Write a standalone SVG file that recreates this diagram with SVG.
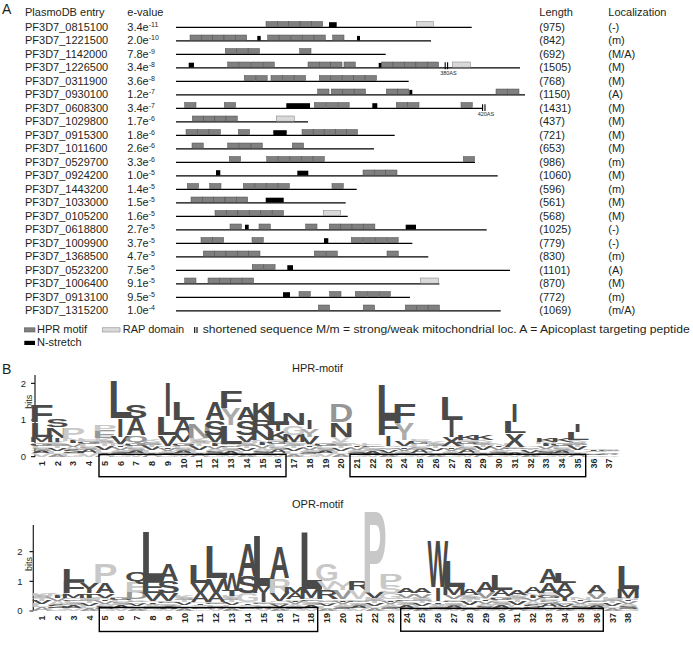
<svg xmlns="http://www.w3.org/2000/svg" xmlns:xlink="http://www.w3.org/1999/xlink" width="693" height="654" viewBox="0 0 693 654">
<style>
.t{font-family:"Liberation Sans",Arial,sans-serif;font-size:11px;fill:#231f20}
.sup{font-size:7px}
.sm{font-family:"Liberation Sans",Arial,sans-serif;font-size:5.5px;fill:#231f20}
.hd{font-family:"Liberation Sans",Arial,sans-serif;font-size:14px;fill:#231f20}
.ln{stroke:#000;stroke-width:1.3}
.hpr{fill:#808080;stroke:#4d4d4d;stroke-width:.5}
.rap{fill:#d9d9d9;stroke:#7a7a7a;stroke-width:.5}
.ns{fill:#000}
.brk{stroke:#000;stroke-width:1.1}
.lg{font-family:"Liberation Sans",Arial,sans-serif;font-weight:bold;font-size:30px;text-anchor:middle}
.d{fill:#4a4a4a}.m{fill:#969696}.l{fill:#c8c8c8}.y{fill:#ababab}
.ax{stroke:#231f20;stroke-width:1.2;fill:none}
.num{font-family:"Liberation Sans",Arial,sans-serif;font-weight:bold;font-size:9px;text-anchor:middle;fill:#231f20}
.tk{font-family:"Liberation Sans",Arial,sans-serif;font-size:9.5px;text-anchor:end;fill:#231f20}
.bits{font-family:"Liberation Sans",Arial,sans-serif;font-size:9px;text-anchor:middle;fill:#231f20}
.box{fill:none;stroke:#000;stroke-width:1.4}
</style>
<defs>
<rect id="h" class="hpr" width="11.3" height="5.2"/>
<g id="na">
<text class="lg l" transform="translate(0,0) scale(1.1,.2048)">V</text>
<text class="lg d" transform="translate(0,-4.4) scale(.95,.1862)">A</text>
<text class="lg m" transform="translate(0,-8.4) scale(1.1,.1676)">S</text>
<text class="lg l" transform="translate(0,-12) scale(1.2,.1397)">L</text>
<text class="lg d" transform="translate(0,-15) scale(1.05,.121)">G</text>
<text class="lg l" transform="translate(0,-17.6) scale(1.1,.1117)">E</text>
</g>
<g id="nb">
<text class="lg m" transform="translate(0,0) scale(.95,.1862)">A</text>
<text class="lg l" transform="translate(0,-4) scale(1.2,.1676)">L</text>
<text class="lg d" transform="translate(0,-7.6) scale(1,.1862)">V</text>
<text class="lg l" transform="translate(0,-11.6) scale(1.1,.1304)">T</text>
<text class="lg m" transform="translate(0,-14.4) scale(1.1,.1304)">S</text>
<text class="lg l" transform="translate(0,-17.2) scale(1,.1304)">K</text>
</g>
<g id="nc">
<text class="lg l" transform="translate(0,0) scale(1.05,.1676)">G</text>
<text class="lg d" transform="translate(0,-3.6) scale(1.1,.1676)">S</text>
<text class="lg l" transform="translate(0,-7.2) scale(.95,.1769)">A</text>
<text class="lg m" transform="translate(0,-11) scale(1,.1583)">V</text>
<text class="lg d" transform="translate(0,-14.4) scale(1.2,.121)">I</text>
<text class="lg l" transform="translate(0,-17) scale(1.1,.1397)">N</text>
</g>
</defs>
<rect width="693" height="654" fill="#fff"/>

<g id="panelA-header">
<text class="hd" x="2" y="14">A</text>
<text class="t" x="25" y="15.5">PlasmoDB entry</text>
<text class="t" x="127.3" y="15.5">e-value</text>
<text class="t" x="539.3" y="15.5">Length</text>
<text class="t" x="608.3" y="15.5">Localization</text>
</g>

<g id="r0815100" transform="translate(0,26.7)">
<text class="t" x="25" y="3.9">PF3D7_0815100</text><text class="t" x="127.3" y="3.9">3.4e<tspan class="sup" dy="-4">-11</tspan></text><text class="t" x="539.3" y="3.9">(975)</text><text class="t" x="608.3" y="3.9">(-)</text>
<line class="ln" x1="176" y1="0.7" x2="471.7" y2="0.7"/>
<use href="#h" x="266" y="-5.2"/><use href="#h" x="277.3" y="-5.2"/><use href="#h" x="288.7" y="-5.2"/><use href="#h" x="300" y="-5.2"/><use href="#h" x="311.4" y="-5.2"/>
<rect class="ns" x="329" y="-4.5" width="7.7" height="4.8"/>
<rect class="rap" x="416.3" y="-5.2" width="17" height="5.2"/>
</g>
<g id="r1221500" transform="translate(0,40.2)">
<text class="t" x="25" y="3.9">PF3D7_1221500</text><text class="t" x="127.3" y="3.9">2.0e<tspan class="sup" dy="-4">-10</tspan></text><text class="t" x="539.3" y="3.9">(842)</text><text class="t" x="608.3" y="3.9">(m)</text>
<line class="ln" x1="176" y1="0.7" x2="431" y2="0.7"/>
<use href="#h" x="190" y="-5.2"/><use href="#h" x="201.3" y="-5.2"/><use href="#h" x="212.7" y="-5.2"/><use href="#h" x="224" y="-5.2"/><use href="#h" x="235.4" y="-5.2"/>
<rect class="ns" x="257.3" y="-4.3" width="3.4" height="4.6"/>
<use href="#h" x="267.7" y="-5.2"/><use href="#h" x="279.3" y="-5.2"/><use href="#h" x="290.9" y="-5.2"/><use href="#h" x="302.5" y="-5.2"/><use href="#h" x="314.1" y="-5.2"/>
<use href="#h" x="332.7" y="-5.2"/>
<rect class="ns" x="357" y="-4.3" width="3" height="4.6"/>
</g>
<g id="r1142000" transform="translate(0,53.7)">
<text class="t" x="25" y="3.9">PF3D7_1142000</text><text class="t" x="127.3" y="3.9">7.8e<tspan class="sup" dy="-4">-9</tspan></text><text class="t" x="539.3" y="3.9">(692)</text><text class="t" x="608.3" y="3.9">(M/A)</text>
<line class="ln" x1="176" y1="0.7" x2="385.7" y2="0.7"/>
<use href="#h" x="225.3" y="-5.2"/><use href="#h" x="236.8" y="-5.2"/><use href="#h" x="248.2" y="-5.2"/>
<use href="#h" x="299.7" y="-5.2"/>
</g>
<g id="r1226500" transform="translate(0,67.2)">
<text class="t" x="25" y="3.9">PF3D7_1226500</text><text class="t" x="127.3" y="3.9">3.4e<tspan class="sup" dy="-4">-8</tspan></text><text class="t" x="539.3" y="3.9">(1505)</text><text class="t" x="608.3" y="3.9">(M)</text>
<line class="ln" x1="176" y1="0.7" x2="520" y2="0.7"/>
<rect class="ns" x="188.7" y="-4.5" width="5.3" height="4.8"/>
<use href="#h" x="227.7" y="-5.2"/><use href="#h" x="239.4" y="-5.2"/><use href="#h" x="251.2" y="-5.2"/><use href="#h" x="263" y="-5.2"/>
<use href="#h" x="308" y="-5.2"/><use href="#h" x="319.3" y="-5.2"/><use href="#h" x="330.7" y="-5.2"/><use href="#h" x="344" y="-5.2"/>
<rect class="ns" x="378.7" y="-4.3" width="3" height="4.6"/>
<use href="#h" x="381.7" y="-5.2"/><use href="#h" x="393.1" y="-5.2"/><use href="#h" x="404.5" y="-5.2"/><use href="#h" x="415.9" y="-5.2"/><use href="#h" x="427.3" y="-5.2"/>
<line class="brk" x1="445.2" y1="-5" x2="445.2" y2="2"/><line class="brk" x1="447.6" y1="-5" x2="447.6" y2="2"/>
<rect class="rap" x="452.3" y="-5.2" width="18" height="5.2"/>
<text class="sm" x="440.2" y="7.8">380AS</text>
</g>
<g id="r0311900" transform="translate(0,80.7)">
<text class="t" x="25" y="3.9">PF3D7_0311900</text><text class="t" x="127.3" y="3.9">3.6e<tspan class="sup" dy="-4">-8</tspan></text><text class="t" x="539.3" y="3.9">(768)</text><text class="t" x="608.3" y="3.9">(M)</text>
<line class="ln" x1="176" y1="0.7" x2="408.7" y2="0.7"/>
<use href="#h" x="244.3" y="-5.2"/><use href="#h" x="255.9" y="-5.2"/>
<use href="#h" x="271" y="-5.2"/><use href="#h" x="282.7" y="-5.2"/><use href="#h" x="294.3" y="-5.2"/>
<use href="#h" x="319.3" y="-5.2"/><use href="#h" x="330.8" y="-5.2"/><use href="#h" x="342.3" y="-5.2"/><use href="#h" x="353.7" y="-5.2"/><use href="#h" x="365.2" y="-5.2"/>
</g>
<g id="r0930100" transform="translate(0,94.2)">
<text class="t" x="25" y="3.9">PF3D7_0930100</text><text class="t" x="127.3" y="3.9">1.2e<tspan class="sup" dy="-4">-7</tspan></text><text class="t" x="539.3" y="3.9">(1150)</text><text class="t" x="608.3" y="3.9">(A)</text>
<line class="ln" x1="176" y1="0.7" x2="525" y2="0.7"/>
<use href="#h" x="317.7" y="-5.2"/>
<use href="#h" x="331.3" y="-5.2"/><use href="#h" x="342.8" y="-5.2"/><use href="#h" x="354.2" y="-5.2"/>
<use href="#h" x="386.3" y="-5.2"/><use href="#h" x="397.5" y="-5.2"/>
<rect class="ns" x="409.3" y="-4.3" width="3" height="4.6"/>
<use href="#h" x="496" y="-5.2"/><use href="#h" x="507.7" y="-5.2"/>
</g>
<g id="r0608300" transform="translate(0,107.7)">
<text class="t" x="25" y="3.9">PF3D7_0608300</text><text class="t" x="127.3" y="3.9">3.4e<tspan class="sup" dy="-4">-7</tspan></text><text class="t" x="539.3" y="3.9">(1431)</text><text class="t" x="608.3" y="3.9">(M)</text>
<line class="ln" x1="176" y1="0.7" x2="483" y2="0.7"/>
<use href="#h" x="184.7" y="-5.2"/>
<use href="#h" x="224.3" y="-5.2"/>
<rect class="ns" x="286.3" y="-4.5" width="23.7" height="4.8"/>
<use href="#h" x="314.3" y="-5.2"/><use href="#h" x="326.1" y="-5.2"/><use href="#h" x="337.9" y="-5.2"/>
<rect class="ns" x="372.3" y="-4.5" width="5" height="4.8"/>
<use href="#h" x="396.3" y="-5.2"/><use href="#h" x="407.7" y="-5.2"/>
<use href="#h" x="461" y="-5.2"/>
<line class="brk" x1="482.6" y1="-3.5" x2="482.6" y2="3.3"/><line class="brk" x1="485" y1="-3.5" x2="485" y2="3.3"/>
<text class="sm" x="477.7" y="8.8">420AS</text>
</g>
<g id="r1029800" transform="translate(0,121.2)">
<text class="t" x="25" y="3.9">PF3D7_1029800</text><text class="t" x="127.3" y="3.9">1.7e<tspan class="sup" dy="-4">-6</tspan></text><text class="t" x="539.3" y="3.9">(437)</text><text class="t" x="608.3" y="3.9">(M)</text>
<line class="ln" x1="176" y1="0.7" x2="308" y2="0.7"/>
<use href="#h" x="192.3" y="-5.2"/><use href="#h" x="203.6" y="-5.2"/><use href="#h" x="214.8" y="-5.2"/><use href="#h" x="226" y="-5.2"/>
<rect class="rap" x="276.3" y="-5.2" width="18" height="5.2"/>
</g>
<g id="r0915300" transform="translate(0,134.7)">
<text class="t" x="25" y="3.9">PF3D7_0915300</text><text class="t" x="127.3" y="3.9">1.8e<tspan class="sup" dy="-4">-6</tspan></text><text class="t" x="539.3" y="3.9">(721)</text><text class="t" x="608.3" y="3.9">(M)</text>
<line class="ln" x1="176" y1="0.7" x2="394.7" y2="0.7"/>
<use href="#h" x="186" y="-5.2"/><use href="#h" x="197.6" y="-5.2"/><use href="#h" x="209.1" y="-5.2"/>
<use href="#h" x="238.3" y="-5.2"/>
<rect class="ns" x="273.3" y="-4.5" width="13.4" height="4.8"/>
<use href="#h" x="302" y="-5.2"/><use href="#h" x="313.1" y="-5.2"/><use href="#h" x="324.1" y="-5.2"/><use href="#h" x="335.2" y="-5.2"/><use href="#h" x="346.3" y="-5.2"/>
</g>
<g id="r1011600" transform="translate(0,148.2)">
<text class="t" x="25" y="3.9">PF3D7_1011600</text><text class="t" x="127.3" y="3.9">2.6e<tspan class="sup" dy="-4">-6</tspan></text><text class="t" x="539.3" y="3.9">(653)</text><text class="t" x="608.3" y="3.9">(M)</text>
<line class="ln" x1="176" y1="0.7" x2="374" y2="0.7"/>
<use href="#h" x="192" y="-5.2"/>
<use href="#h" x="227.7" y="-5.2"/><use href="#h" x="239.4" y="-5.2"/><use href="#h" x="251" y="-5.2"/>
<use href="#h" x="292.3" y="-5.2"/>
</g>
<g id="r0529700" transform="translate(0,161.7)">
<text class="t" x="25" y="3.9">PF3D7_0529700</text><text class="t" x="127.3" y="3.9">3.3e<tspan class="sup" dy="-4">-6</tspan></text><text class="t" x="539.3" y="3.9">(986)</text><text class="t" x="608.3" y="3.9">(m)</text>
<line class="ln" x1="176" y1="0.7" x2="475" y2="0.7"/>
<use href="#h" x="229.3" y="-5.2"/>
<use href="#h" x="266.7" y="-5.2"/><use href="#h" x="278.3" y="-5.2"/><use href="#h" x="289.9" y="-5.2"/><use href="#h" x="301.5" y="-5.2"/><use href="#h" x="313.1" y="-5.2"/>
<use href="#h" x="463.3" y="-5.2"/>
</g>
<g id="r0924200" transform="translate(0,175.2)">
<text class="t" x="25" y="3.9">PF3D7_0924200</text><text class="t" x="127.3" y="3.9">1.0e<tspan class="sup" dy="-4">-5</tspan></text><text class="t" x="539.3" y="3.9">(1060)</text><text class="t" x="608.3" y="3.9">(M)</text>
<line class="ln" x1="176" y1="0.7" x2="497.7" y2="0.7"/>
<rect class="ns" x="216" y="-5" width="4.3" height="5.3"/>
<rect class="ns" x="297.3" y="-4.5" width="11" height="4.8"/>
<use href="#h" x="363" y="-5.2"/><use href="#h" x="374.3" y="-5.2"/><use href="#h" x="385.7" y="-5.2"/>
</g>
<g id="r1443200" transform="translate(0,188.7)">
<text class="t" x="25" y="3.9">PF3D7_1443200</text><text class="t" x="127.3" y="3.9">1.4e<tspan class="sup" dy="-4">-5</tspan></text><text class="t" x="539.3" y="3.9">(596)</text><text class="t" x="608.3" y="3.9">(m)</text>
<line class="ln" x1="176" y1="0.7" x2="356.7" y2="0.7"/>
<use href="#h" x="187.3" y="-5.2"/>
<use href="#h" x="209.7" y="-5.2"/>
<use href="#h" x="243.3" y="-5.2"/><use href="#h" x="254.9" y="-5.2"/><use href="#h" x="266.5" y="-5.2"/><use href="#h" x="278.1" y="-5.2"/>
<use href="#h" x="332" y="-5.2"/>
</g>
<g id="r1033000" transform="translate(0,202.2)">
<text class="t" x="25" y="3.9">PF3D7_1033000</text><text class="t" x="127.3" y="3.9">1.5e<tspan class="sup" dy="-4">-5</tspan></text><text class="t" x="539.3" y="3.9">(561)</text><text class="t" x="608.3" y="3.9">(M)</text>
<line class="ln" x1="176" y1="0.7" x2="345.7" y2="0.7"/>
<use href="#h" x="191" y="-5.2"/><use href="#h" x="202.3" y="-5.2"/><use href="#h" x="213.7" y="-5.2"/><use href="#h" x="225" y="-5.2"/><use href="#h" x="236.4" y="-5.2"/>
<rect class="ns" x="265.7" y="-4.5" width="18" height="4.8"/>
</g>
<g id="r0105200" transform="translate(0,215.7)">
<text class="t" x="25" y="3.9">PF3D7_0105200</text><text class="t" x="127.3" y="3.9">1.6e<tspan class="sup" dy="-4">-5</tspan></text><text class="t" x="539.3" y="3.9">(568)</text><text class="t" x="608.3" y="3.9">(M)</text>
<line class="ln" x1="176" y1="0.7" x2="347.7" y2="0.7"/>
<use href="#h" x="215" y="-5.2"/><use href="#h" x="226.45" y="-5.2"/><use href="#h" x="237.9" y="-5.2"/><use href="#h" x="249.35" y="-5.2"/><use href="#h" x="260.8" y="-5.2"/><use href="#h" x="272.25" y="-5.2"/>
<rect class="rap" x="323.3" y="-5.2" width="17.4" height="5.2"/>
</g>
<g id="r0618800" transform="translate(0,229.2)">
<text class="t" x="25" y="3.9">PF3D7_0618800</text><text class="t" x="127.3" y="3.9">2.7e<tspan class="sup" dy="-4">-5</tspan></text><text class="t" x="539.3" y="3.9">(1025)</text><text class="t" x="608.3" y="3.9">(-)</text>
<line class="ln" x1="176" y1="0.7" x2="486.7" y2="0.7"/>
<use href="#h" x="230" y="-5.2"/>
<rect class="ns" x="245" y="-4.5" width="3.7" height="4.8"/>
<use href="#h" x="259" y="-5.2"/>
<use href="#h" x="305.7" y="-5.2"/>
<use href="#h" x="329.3" y="-5.2"/><use href="#h" x="340.7" y="-5.2"/><use href="#h" x="352.1" y="-5.2"/><use href="#h" x="363.6" y="-5.2"/>
<rect class="ns" x="405.7" y="-4.5" width="10.3" height="4.8"/>
</g>
<g id="r1009900" transform="translate(0,242.7)">
<text class="t" x="25" y="3.9">PF3D7_1009900</text><text class="t" x="127.3" y="3.9">3.7e<tspan class="sup" dy="-4">-5</tspan></text><text class="t" x="539.3" y="3.9">(779)</text><text class="t" x="608.3" y="3.9">(-)</text>
<line class="ln" x1="176" y1="0.7" x2="412.3" y2="0.7"/>
<use href="#h" x="201" y="-5.2"/><use href="#h" x="212.35" y="-5.2"/>
<use href="#h" x="252" y="-5.2"/>
<rect class="ns" x="324" y="-4.5" width="4.3" height="4.8"/>
<use href="#h" x="351.3" y="-5.2"/><use href="#h" x="363.2" y="-5.2"/><use href="#h" x="375" y="-5.2"/><use href="#h" x="386.9" y="-5.2"/>
</g>
<g id="r1368500" transform="translate(0,256.2)">
<text class="t" x="25" y="3.9">PF3D7_1368500</text><text class="t" x="127.3" y="3.9">4.7e<tspan class="sup" dy="-4">-5</tspan></text><text class="t" x="539.3" y="3.9">(830)</text><text class="t" x="608.3" y="3.9">(m)</text>
<line class="ln" x1="176" y1="0.7" x2="428.3" y2="0.7"/>
<use href="#h" x="203.3" y="-5.2"/><use href="#h" x="214.6" y="-5.2"/><use href="#h" x="226" y="-5.2"/><use href="#h" x="237.3" y="-5.2"/><use href="#h" x="248.7" y="-5.2"/>
<use href="#h" x="314.3" y="-5.2"/><use href="#h" x="326" y="-5.2"/>
<use href="#h" x="387" y="-5.2"/>
</g>
<g id="r0523200" transform="translate(0,269.7)">
<text class="t" x="25" y="3.9">PF3D7_0523200</text><text class="t" x="127.3" y="3.9">7.5e<tspan class="sup" dy="-4">-5</tspan></text><text class="t" x="539.3" y="3.9">(1101)</text><text class="t" x="608.3" y="3.9">(A)</text>
<line class="ln" x1="176" y1="0.7" x2="510" y2="0.7"/>
<use href="#h" x="252.3" y="-5.2"/><use href="#h" x="263.8" y="-5.2"/>
<rect class="ns" x="287.3" y="-4.5" width="5.7" height="4.8"/>
</g>
<g id="r1006400" transform="translate(0,283.2)">
<text class="t" x="25" y="3.9">PF3D7_1006400</text><text class="t" x="127.3" y="3.9">9.1e<tspan class="sup" dy="-4">-5</tspan></text><text class="t" x="539.3" y="3.9">(870)</text><text class="t" x="608.3" y="3.9">(M)</text>
<line class="ln" x1="176" y1="0.7" x2="439.3" y2="0.7"/>
<use href="#h" x="184.7" y="-5.2"/>
<use href="#h" x="208" y="-5.2"/><use href="#h" x="219.4" y="-5.2"/><use href="#h" x="230.8" y="-5.2"/><use href="#h" x="242.3" y="-5.2"/>
<rect class="rap" x="420.3" y="-5.2" width="18.4" height="5.2"/>
</g>
<g id="r0913100" transform="translate(0,296.7)">
<text class="t" x="25" y="3.9">PF3D7_0913100</text><text class="t" x="127.3" y="3.9">9.5e<tspan class="sup" dy="-4">-5</tspan></text><text class="t" x="539.3" y="3.9">(772)</text><text class="t" x="608.3" y="3.9">(m)</text>
<line class="ln" x1="176" y1="0.7" x2="410" y2="0.7"/>
<rect class="ns" x="283" y="-4.5" width="7" height="4.8"/>
<use href="#h" x="299" y="-5.2"/>
<use href="#h" x="329.7" y="-5.2"/>
<use href="#h" x="355.3" y="-5.2"/><use href="#h" x="367.2" y="-5.2"/><use href="#h" x="379.1" y="-5.2"/>
</g>
<g id="r1315200" transform="translate(0,310.2)">
<text class="t" x="25" y="3.9">PF3D7_1315200</text><text class="t" x="127.3" y="3.9">1.0e<tspan class="sup" dy="-4">-4</tspan></text><text class="t" x="539.3" y="3.9">(1069)</text><text class="t" x="608.3" y="3.9">(m/A)</text>
<line class="ln" x1="176" y1="0.7" x2="500.7" y2="0.7"/>
<use href="#h" x="318.3" y="-5.2"/>
<use href="#h" x="363.3" y="-5.2"/>
<use href="#h" x="405.3" y="-5.2"/><use href="#h" x="416.8" y="-5.2"/><use href="#h" x="428.2" y="-5.2"/>
</g>

<g id="legend">
<rect class="hpr" x="24.3" y="327.8" width="10.7" height="4.2"/>
<text class="t" x="37" y="332.5">HPR motif</text>
<rect class="rap" x="102.3" y="327.8" width="17.7" height="4.2"/>
<text class="t" x="122.7" y="332.5">RAP domain</text>
<line class="brk" x1="194.7" y1="327" x2="194.7" y2="333"/><line class="brk" x1="197" y1="327" x2="197" y2="333"/>
<text class="t" x="202.7" y="332.5" textLength="487" lengthAdjust="spacingAndGlyphs">shortened sequence  M/m = strong/weak mitochondrial loc. A = Apicoplast targeting peptide</text>
<rect class="ns" x="24.3" y="340.8" width="10.7" height="4.2"/>
<text class="t" x="37" y="345.5">N-stretch</text>
</g>

<g id="panelB-label"><text class="hd" x="2" y="373.5">B</text></g>

<g id="hpr-logo">
<text class="t" x="292" y="372">HPR-motif</text>
<path class="ax" d="M35,375V456.7M31,383.3H35M31,420H35M31,456.7H35"/>
<text class="tk" x="26" y="386.6">2</text><text class="tk" x="26" y="423.3">1</text><text class="tk" x="26" y="460">0</text>
<text class="bits" transform="translate(31.5,401.7) rotate(-90)">bits</text>
<g id="hpr-noise">
<use href="#na" transform="translate(41.5,456.7) scale(1,.734)"/>
<use href="#nb" transform="translate(57.3,456.7) scale(1,.734)"/>
<use href="#nc" transform="translate(73,456.7) scale(1,.9175)"/>
<use href="#na" transform="translate(88.8,456.7) scale(1,.8258)"/>
<use href="#nb" transform="translate(104.6,456.7) scale(1,.9175)"/>
<use href="#nc" transform="translate(120.4,456.7) scale(1,.6423)"/>
<use href="#na" transform="translate(136.1,456.7) scale(1,.734)"/>
<use href="#nb" transform="translate(151.9,456.7) scale(1,.8258)"/>
<use href="#nc" transform="translate(167.7,456.7) scale(1,.5505)"/>
<use href="#na" transform="translate(183.4,456.7) scale(1,.734)"/>
<use href="#nb" transform="translate(199.2,456.7) scale(1,.9175)"/>
<use href="#nc" transform="translate(215,456.7) scale(1,.734)"/>
<use href="#na" transform="translate(230.7,456.7) scale(1,.661)"/>
<use href="#nb" transform="translate(246.5,456.7) scale(1,.734)"/>
<use href="#nc" transform="translate(262.3,456.7) scale(1,.8258)"/>
<use href="#na" transform="translate(278,456.7) scale(1,.8258)"/>
<use href="#nb" transform="translate(293.8,456.7) scale(1,.734)"/>
<use href="#nc" transform="translate(309.6,456.7) scale(1,.6423)"/>
<use href="#na" transform="translate(325.4,456.7) scale(1,.734)"/>
<use href="#nb" transform="translate(341.1,456.7) scale(1,.734)"/>
<use href="#nc" transform="translate(356.9,456.7) scale(1,.6423)"/>
<use href="#na" transform="translate(372.6,456.7) scale(1,.6423)"/>
<use href="#nb" transform="translate(388.4,456.7) scale(1,.5505)"/>
<use href="#nc" transform="translate(404.2,456.7) scale(1,.5505)"/>
<use href="#na" transform="translate(419.9,456.7) scale(1,.8258)"/>
<use href="#nb" transform="translate(435.7,456.7) scale(1,.734)"/>
<use href="#nc" transform="translate(451.5,456.7) scale(1,.5505)"/>
<use href="#na" transform="translate(467.3,456.7) scale(1,.8258)"/>
<use href="#nb" transform="translate(483,456.7) scale(1,.8258)"/>
<use href="#nc" transform="translate(498.8,456.7) scale(1,.6423)"/>
<use href="#na" transform="translate(514.6,456.7) scale(1,.4955)"/>
<use href="#nb" transform="translate(530.3,456.7) scale(1,.5505)"/>
<use href="#nc" transform="translate(546.1,456.7) scale(1,.734)"/>
<use href="#na" transform="translate(561.9,456.7) scale(1,.734)"/>
<use href="#nb" transform="translate(577.6,456.7) scale(1,.8258)"/>
<use href="#nc" transform="translate(593.4,456.7) scale(1,.4037)"/>
<use href="#na" transform="translate(609.2,456.7) scale(1,.367)"/>
</g>
<g id="hpr-letters">
<text class="lg d" transform="translate(41.5,442) scale(.99,.256)">M</text>
<text class="lg d" transform="translate(41.5,436.5) scale(1.32,.683)">L</text>
<text class="lg d" transform="translate(41.5,421.8) scale(1.34,.786)">F</text>
<text class="lg d" transform="translate(57.3,442) scale(.85,.205)">I</text>
<text class="lg d" transform="translate(57.3,437.6) scale(1.15,.513)">N</text>
<text class="lg d" transform="translate(57.3,426.6) scale(1.15,.393)">S</text>
<text class="lg l" transform="translate(73,438.35) scale(1.22,.513)">P</text>
<text class="lg m" transform="translate(104.6,438.35) scale(1.22,.342)">E</text>
<text class="lg l" transform="translate(104.6,431) scale(1.22,.273)">P</text>
<text class="lg d" transform="translate(120.4,443.85) scale(1,.342)">V</text>
<text class="lg d" transform="translate(120.4,436.5) scale(.85,.854)">I</text>
<text class="lg d" transform="translate(120.4,418.2) scale(1.32,1.777)">L</text>
<text class="lg m" transform="translate(136.1,442) scale(1.02,.325)">Q</text>
<text class="lg d" transform="translate(136.1,435.05) scale(.93,.786)">A</text>
<text class="lg d" transform="translate(136.1,418.2) scale(1.15,.615)">S</text>
<text class="lg d" transform="translate(167.7,445.7) scale(1,.513)">V</text>
<text class="lg d" transform="translate(167.7,434.7) scale(1.32,.854)">L</text>
<text class="lg d" transform="translate(167.7,416.3) scale(.85,1.623)">I</text>
<text class="lg d" transform="translate(183.4,442) scale(1,.376)">V</text>
<text class="lg d" transform="translate(183.4,433.95) scale(.93,.649)">A</text>
<text class="lg d" transform="translate(183.4,420) scale(1.32,.854)">L</text>
<text class="lg m" transform="translate(199.2,438.35) scale(1.15,.683)">N</text>
<text class="lg d" transform="translate(215,442) scale(1,.342)">V</text>
<text class="lg d" transform="translate(215,434.7) scale(1.15,.683)">S</text>
<text class="lg d" transform="translate(215,420) scale(.93,.854)">A</text>
<text class="lg d" transform="translate(230.7,443.5) scale(1.32,.854)">L</text>
<text class="lg y" transform="translate(230.7,425.1) scale(1,.786)">Y</text>
<text class="lg d" transform="translate(230.7,408.3) scale(1.34,.769)">F</text>
<text class="lg d" transform="translate(246.5,442) scale(1,.325)">V</text>
<text class="lg d" transform="translate(246.5,435.05) scale(1.15,.7)">S</text>
<text class="lg d" transform="translate(246.5,420) scale(.93,.615)">A</text>
<text class="lg d" transform="translate(262.3,440.2) scale(1.15,.461)">N</text>
<text class="lg d" transform="translate(262.3,430.3) scale(1.09,.478)">R</text>
<text class="lg d" transform="translate(262.3,420) scale(1.02,.769)">K</text>
<text class="lg d" transform="translate(278,440.2) scale(1.02,.427)">K</text>
<text class="lg d" transform="translate(278,431) scale(.85,.273)">I</text>
<text class="lg d" transform="translate(278,425.1) scale(1.32,1.094)">L</text>
<text class="lg d" transform="translate(293.8,442) scale(.99,.342)">M</text>
<text class="lg l" transform="translate(293.8,434.7) scale(1.02,.444)">G</text>
<text class="lg d" transform="translate(293.8,425.1) scale(1.15,.547)">N</text>
<text class="lg d" transform="translate(309.6,443.85) scale(1,.342)">V</text>
<text class="lg y" transform="translate(309.6,436.5) scale(1,.342)">Y</text>
<text class="lg d" transform="translate(309.6,429.2) scale(.85,.41)">I</text>
<text class="lg l" transform="translate(341.1,442) scale(1,.256)">V</text>
<text class="lg d" transform="translate(341.1,436.5) scale(1.15,.683)">N</text>
<text class="lg m" transform="translate(341.1,421.8) scale(1.12,.854)">D</text>
<text class="lg d" transform="translate(388.4,445.7) scale(.85,.496)">I</text>
<text class="lg d" transform="translate(388.4,435.05) scale(1.34,.786)">F</text>
<text class="lg d" transform="translate(388.4,418.2) scale(1.32,1.623)">L</text>
<text class="lg d" transform="translate(404.2,445.7) scale(1,.256)">V</text>
<text class="lg y" transform="translate(404.2,440.2) scale(1,.786)">Y</text>
<text class="lg d" transform="translate(404.2,423.3) scale(1.34,.923)">F</text>
<text class="lg d" transform="translate(451.5,445.7) scale(1,.427)">X</text>
<text class="lg d" transform="translate(451.5,436.5) scale(.85,.769)">I</text>
<text class="lg d" transform="translate(451.5,420) scale(1.32,1.094)">L</text>
<text class="lg d" transform="translate(467.3,440.2) scale(1.02,.222)">K</text>
<text class="lg d" transform="translate(483,440.2) scale(1.02,.222)">K</text>
<text class="lg d" transform="translate(514.6,446.8) scale(1,.632)">X</text>
<text class="lg d" transform="translate(514.6,433.2) scale(1.32,.53)">L</text>
<text class="lg d" transform="translate(514.6,421.8) scale(.85,.854)">I</text>
<text class="lg d" transform="translate(546.1,442) scale(1.02,.171)">K</text>
<text class="lg d" transform="translate(561.9,442) scale(1.02,.205)">K</text>
<text class="lg d" transform="translate(577.6,440.2) scale(1.32,.393)">L</text>
<text class="lg d" transform="translate(577.6,431.7) scale(.85,.376)">I</text>
</g>
<g id="hpr-positions">
<text class="num" transform="translate(44.7,463.5) rotate(-90)">1</text>
<text class="num" transform="translate(60.5,463.5) rotate(-90)">2</text>
<text class="num" transform="translate(76.2,463.5) rotate(-90)">3</text>
<text class="num" transform="translate(92,463.5) rotate(-90)">4</text>
<text class="num" transform="translate(107.8,463.5) rotate(-90)">5</text>
<text class="num" transform="translate(123.6,463.5) rotate(-90)">6</text>
<text class="num" transform="translate(139.3,463.5) rotate(-90)">7</text>
<text class="num" transform="translate(155.1,463.5) rotate(-90)">8</text>
<text class="num" transform="translate(170.9,463.5) rotate(-90)">9</text>
<text class="num" transform="translate(186.6,463.5) rotate(-90)">10</text>
<text class="num" transform="translate(202.4,463.5) rotate(-90)">11</text>
<text class="num" transform="translate(218.2,463.5) rotate(-90)">12</text>
<text class="num" transform="translate(233.9,463.5) rotate(-90)">13</text>
<text class="num" transform="translate(249.7,463.5) rotate(-90)">14</text>
<text class="num" transform="translate(265.5,463.5) rotate(-90)">15</text>
<text class="num" transform="translate(281.3,463.5) rotate(-90)">16</text>
<text class="num" transform="translate(297,463.5) rotate(-90)">17</text>
<text class="num" transform="translate(312.8,463.5) rotate(-90)">18</text>
<text class="num" transform="translate(328.6,463.5) rotate(-90)">19</text>
<text class="num" transform="translate(344.3,463.5) rotate(-90)">20</text>
<text class="num" transform="translate(360.1,463.5) rotate(-90)">21</text>
<text class="num" transform="translate(375.9,463.5) rotate(-90)">22</text>
<text class="num" transform="translate(391.6,463.5) rotate(-90)">23</text>
<text class="num" transform="translate(407.4,463.5) rotate(-90)">24</text>
<text class="num" transform="translate(423.2,463.5) rotate(-90)">25</text>
<text class="num" transform="translate(439,463.5) rotate(-90)">26</text>
<text class="num" transform="translate(454.7,463.5) rotate(-90)">27</text>
<text class="num" transform="translate(470.5,463.5) rotate(-90)">28</text>
<text class="num" transform="translate(486.3,463.5) rotate(-90)">29</text>
<text class="num" transform="translate(502,463.5) rotate(-90)">30</text>
<text class="num" transform="translate(517.8,463.5) rotate(-90)">31</text>
<text class="num" transform="translate(533.6,463.5) rotate(-90)">32</text>
<text class="num" transform="translate(549.3,463.5) rotate(-90)">33</text>
<text class="num" transform="translate(565.1,463.5) rotate(-90)">34</text>
<text class="num" transform="translate(580.9,463.5) rotate(-90)">35</text>
<text class="num" transform="translate(596.7,463.5) rotate(-90)">36</text>
<text class="num" transform="translate(612.4,463.5) rotate(-90)">37</text>
</g>
<rect class="box" x="99" y="454.3" width="187" height="22.4"/>
<rect class="box" x="350" y="454.3" width="235.7" height="22.4"/>
</g>

<g id="opr-logo">
<text class="t" x="292" y="508">OPR-motif</text>
<path class="ax" d="M33.3,525V611M29.5,551.7H33.3M29.5,581.3H33.3M29.5,611H33.3"/>
<text class="tk" x="22.5" y="555">2</text><text class="tk" x="22.5" y="584.6">1</text><text class="tk" x="22.5" y="614.3">0</text>
<text class="bits" transform="translate(31.5,564) rotate(-90)">bits</text>
<g id="opr-noise">
<use href="#nb" transform="translate(41.7,611) scale(1,.8895)"/>
<use href="#nc" transform="translate(57.55,611) scale(1,.8895)"/>
<use href="#na" transform="translate(73.4,611) scale(1,.6671)"/>
<use href="#nb" transform="translate(89.25,611) scale(1,.6671)"/>
<use href="#nc" transform="translate(105.1,611) scale(1,.6671)"/>
<use href="#na" transform="translate(120.95,611) scale(1,.7413)"/>
<use href="#nb" transform="translate(136.8,611) scale(1,.593)"/>
<use href="#nc" transform="translate(152.65,611) scale(1,.5189)"/>
<use href="#na" transform="translate(168.5,611) scale(1,.5189)"/>
<use href="#nb" transform="translate(184.35,611) scale(1,.7413)"/>
<use href="#nc" transform="translate(200.2,611) scale(1,.4448)"/>
<use href="#na" transform="translate(216.05,611) scale(1,.4448)"/>
<use href="#nb" transform="translate(231.9,611) scale(1,.7413)"/>
<use href="#nc" transform="translate(247.75,611) scale(1,.4448)"/>
<use href="#na" transform="translate(263.6,611) scale(1,.4448)"/>
<use href="#nb" transform="translate(279.45,611) scale(1,.5189)"/>
<use href="#nc" transform="translate(295.3,611) scale(1,.593)"/>
<use href="#na" transform="translate(311.15,611) scale(1,.6671)"/>
<use href="#nb" transform="translate(327,611) scale(1,.593)"/>
<use href="#nc" transform="translate(342.85,611) scale(1,.593)"/>
<use href="#na" transform="translate(358.7,611) scale(1,.593)"/>
<use href="#nb" transform="translate(374.55,611) scale(1,.6671)"/>
<use href="#nc" transform="translate(390.4,611) scale(1,.593)"/>
<use href="#na" transform="translate(406.25,611) scale(1,.6671)"/>
<use href="#nb" transform="translate(422.1,611) scale(1,.6671)"/>
<use href="#nc" transform="translate(437.95,611) scale(1,.5189)"/>
<use href="#na" transform="translate(453.8,611) scale(1,.593)"/>
<use href="#nb" transform="translate(469.65,611) scale(1,.8154)"/>
<use href="#nc" transform="translate(485.5,611) scale(1,.6671)"/>
<use href="#na" transform="translate(501.35,611) scale(1,.7413)"/>
<use href="#nb" transform="translate(517.2,611) scale(1,.8154)"/>
<use href="#nc" transform="translate(533.05,611) scale(1,.8895)"/>
<use href="#na" transform="translate(548.9,611) scale(1,.8895)"/>
<use href="#nb" transform="translate(564.75,611) scale(1,.5189)"/>
<use href="#nc" transform="translate(580.6,611) scale(1,.6671)"/>
<use href="#na" transform="translate(596.45,611) scale(1,.593)"/>
<use href="#nb" transform="translate(612.3,611) scale(1,.6671)"/>
<use href="#nc" transform="translate(628.15,611) scale(1,.6671)"/>
</g>
<g id="opr-letters">
<text class="lg d" transform="translate(73.4,597.66) scale(.99,.207)">M</text>
<text class="lg d" transform="translate(73.4,593.21) scale(1.34,.552)">F</text>
<text class="lg d" transform="translate(73.4,581.35) scale(1.32,.552)">L</text>
<text class="lg d" transform="translate(89.25,597.66) scale(1.14,.207)">T</text>
<text class="lg d" transform="translate(89.25,593.21) scale(1,.483)">Y</text>
<text class="lg d" transform="translate(105.1,597.66) scale(1,.207)">V</text>
<text class="lg d" transform="translate(105.1,593.21) scale(.93,.483)">A</text>
<text class="lg l" transform="translate(105.1,582.83) scale(1.22,.897)">P</text>
<text class="lg m" transform="translate(136.8,599.14) scale(1.12,.345)">D</text>
<text class="lg l" transform="translate(136.8,591.73) scale(1.22,.483)">E</text>
<text class="lg d" transform="translate(136.8,581.35) scale(1.02,.414)">Q</text>
<text class="lg d" transform="translate(152.65,600.62) scale(1,.345)">V</text>
<text class="lg d" transform="translate(152.65,593.21) scale(1.22,.552)">E</text>
<text class="lg d" transform="translate(152.65,581.35) scale(1.32,2.347)">L</text>
<text class="lg d" transform="translate(168.5,600.62) scale(1,.345)">V</text>
<text class="lg d" transform="translate(168.5,593.21) scale(1.15,.552)">S</text>
<text class="lg d" transform="translate(168.5,581.35) scale(.93,.787)">A</text>
<text class="lg d" transform="translate(200.2,602.1) scale(.93,.414)">A</text>
<text class="lg d" transform="translate(200.2,593.21) scale(1,.483)">V</text>
<text class="lg d" transform="translate(200.2,582.83) scale(1.32,.856)">L</text>
<text class="lg d" transform="translate(216.05,602.1) scale(.93,.414)">A</text>
<text class="lg d" transform="translate(216.05,593.21) scale(1,.69)">V</text>
<text class="lg d" transform="translate(216.05,578.39) scale(1.32,1.518)">L</text>
<text class="lg d" transform="translate(231.9,596.18) scale(1.14,.304)">T</text>
<text class="lg d" transform="translate(231.9,589.65) scale(.73,.8)">W</text>
<text class="lg l" transform="translate(247.75,602.1) scale(1.02,.414)">G</text>
<text class="lg d" transform="translate(247.75,593.21) scale(1.15,.787)">S</text>
<text class="lg d" transform="translate(247.75,576.31) scale(.93,1.56)">A</text>
<text class="lg d" transform="translate(263.6,602.1) scale(.85,.414)">I</text>
<text class="lg d" transform="translate(263.6,593.21) scale(.99,.345)">M</text>
<text class="lg d" transform="translate(263.6,585.8) scale(1.32,2.416)">L</text>
<text class="lg d" transform="translate(279.45,600.62) scale(1,.345)">V</text>
<text class="lg l" transform="translate(279.45,593.21) scale(1.09,.69)">R</text>
<text class="lg d" transform="translate(279.45,578.39) scale(.93,1.449)">A</text>
<text class="lg d" transform="translate(295.3,599.14) scale(.93,.276)">A</text>
<text class="lg d" transform="translate(295.3,593.21) scale(.99,.276)">M</text>
<text class="lg d" transform="translate(311.15,597.66) scale(.99,.414)">M</text>
<text class="lg d" transform="translate(311.15,588.76) scale(1.32,2.692)">L</text>
<text class="lg d" transform="translate(327,599.14) scale(1.09,.414)">R</text>
<text class="lg l" transform="translate(327,590.25) scale(1,.414)">V</text>
<text class="lg l" transform="translate(327,581.35) scale(1.02,.828)">G</text>
<text class="lg m" transform="translate(342.85,599.14) scale(1,.414)">V</text>
<text class="lg l" transform="translate(342.85,590.25) scale(1,.345)">Y</text>
<text class="lg l" transform="translate(358.7,599.14) scale(1,.414)">V</text>
<text class="lg d" transform="translate(358.7,590.25) scale(1.09,.414)">R</text>
<text class="lg d" transform="translate(374.55,597.66) scale(1,.276)">V</text>
<text class="lg l" transform="translate(374.55,591.73) scale(1.22,3.865)">P</text>
<text class="lg l" transform="translate(390.4,599.14) scale(1.02,.276)">G</text>
<text class="lg l" transform="translate(390.4,593.21) scale(1.15,.345)">S</text>
<text class="lg l" transform="translate(390.4,585.8) scale(1.22,.552)">P</text>
<text class="lg m" transform="translate(406.25,597.66) scale(1,.207)">V</text>
<text class="lg d" transform="translate(406.25,593.21) scale(.93,.221)">A</text>
<text class="lg m" transform="translate(422.1,597.66) scale(1,.207)">V</text>
<text class="lg d" transform="translate(422.1,593.21) scale(.93,.248)">A</text>
<text class="lg d" transform="translate(437.95,600.62) scale(.85,.621)">I</text>
<text class="lg d" transform="translate(437.95,587.28) scale(.73,2.209)">W</text>
<text class="lg m" transform="translate(453.8,599.14) scale(1,.207)">V</text>
<text class="lg d" transform="translate(453.8,594.69) scale(.99,.373)">M</text>
<text class="lg d" transform="translate(453.8,586.69) scale(1.32,1.242)">L</text>
<text class="lg d" transform="translate(469.65,594.69) scale(.93,.276)">A</text>
<text class="lg m" transform="translate(485.5,597.66) scale(1,.276)">V</text>
<text class="lg d" transform="translate(485.5,591.73) scale(.93,.483)">A</text>
<text class="lg d" transform="translate(501.35,596.18) scale(.93,.304)">A</text>
<text class="lg d" transform="translate(501.35,589.65) scale(1.32,.759)">L</text>
<text class="lg d" transform="translate(517.2,594.69) scale(.93,.235)">A</text>
<text class="lg d" transform="translate(533.05,593.21) scale(.93,.276)">A</text>
<text class="lg d" transform="translate(548.9,593.21) scale(.93,.483)">A</text>
<text class="lg d" transform="translate(548.9,582.83) scale(.93,.69)">A</text>
<text class="lg d" transform="translate(564.75,600.62) scale(1,.345)">Y</text>
<text class="lg d" transform="translate(564.75,593.21) scale(.93,.483)">A</text>
<text class="lg d" transform="translate(564.75,582.83) scale(1.32,.483)">L</text>
<text class="lg m" transform="translate(596.45,599.14) scale(1,.276)">V</text>
<text class="lg d" transform="translate(596.45,593.21) scale(.93,.345)">A</text>
<text class="lg d" transform="translate(628.15,597.66) scale(.99,.414)">M</text>
<text class="lg d" transform="translate(628.15,588.76) scale(1.32,1.104)">L</text>
</g>
<g id="opr-positions">
<text class="num" transform="translate(44.9,618) rotate(-90)">1</text>
<text class="num" transform="translate(60.8,618) rotate(-90)">2</text>
<text class="num" transform="translate(76.6,618) rotate(-90)">3</text>
<text class="num" transform="translate(92.5,618) rotate(-90)">4</text>
<text class="num" transform="translate(108.3,618) rotate(-90)">5</text>
<text class="num" transform="translate(124.2,618) rotate(-90)">6</text>
<text class="num" transform="translate(140,618) rotate(-90)">7</text>
<text class="num" transform="translate(155.9,618) rotate(-90)">8</text>
<text class="num" transform="translate(171.7,618) rotate(-90)">9</text>
<text class="num" transform="translate(187.6,618) rotate(-90)">10</text>
<text class="num" transform="translate(203.4,618) rotate(-90)">11</text>
<text class="num" transform="translate(219.3,618) rotate(-90)">12</text>
<text class="num" transform="translate(235.1,618) rotate(-90)">13</text>
<text class="num" transform="translate(251,618) rotate(-90)">14</text>
<text class="num" transform="translate(266.8,618) rotate(-90)">15</text>
<text class="num" transform="translate(282.7,618) rotate(-90)">16</text>
<text class="num" transform="translate(298.5,618) rotate(-90)">17</text>
<text class="num" transform="translate(314.4,618) rotate(-90)">18</text>
<text class="num" transform="translate(330.2,618) rotate(-90)">19</text>
<text class="num" transform="translate(346.1,618) rotate(-90)">20</text>
<text class="num" transform="translate(361.9,618) rotate(-90)">21</text>
<text class="num" transform="translate(377.8,618) rotate(-90)">22</text>
<text class="num" transform="translate(393.6,618) rotate(-90)">23</text>
<text class="num" transform="translate(409.5,618) rotate(-90)">24</text>
<text class="num" transform="translate(425.3,618) rotate(-90)">25</text>
<text class="num" transform="translate(441.2,618) rotate(-90)">26</text>
<text class="num" transform="translate(457,618) rotate(-90)">27</text>
<text class="num" transform="translate(472.9,618) rotate(-90)">28</text>
<text class="num" transform="translate(488.7,618) rotate(-90)">29</text>
<text class="num" transform="translate(504.6,618) rotate(-90)">30</text>
<text class="num" transform="translate(520.4,618) rotate(-90)">31</text>
<text class="num" transform="translate(536.3,618) rotate(-90)">32</text>
<text class="num" transform="translate(552.1,618) rotate(-90)">33</text>
<text class="num" transform="translate(568,618) rotate(-90)">34</text>
<text class="num" transform="translate(583.8,618) rotate(-90)">35</text>
<text class="num" transform="translate(599.7,618) rotate(-90)">36</text>
<text class="num" transform="translate(615.5,618) rotate(-90)">37</text>
<text class="num" transform="translate(631.4,618) rotate(-90)">38</text>
</g>
<rect class="box" x="99.3" y="607.5" width="218.4" height="24"/>
<rect class="box" x="400.7" y="608.5" width="202.6" height="22.7"/>
</g>
</svg>
